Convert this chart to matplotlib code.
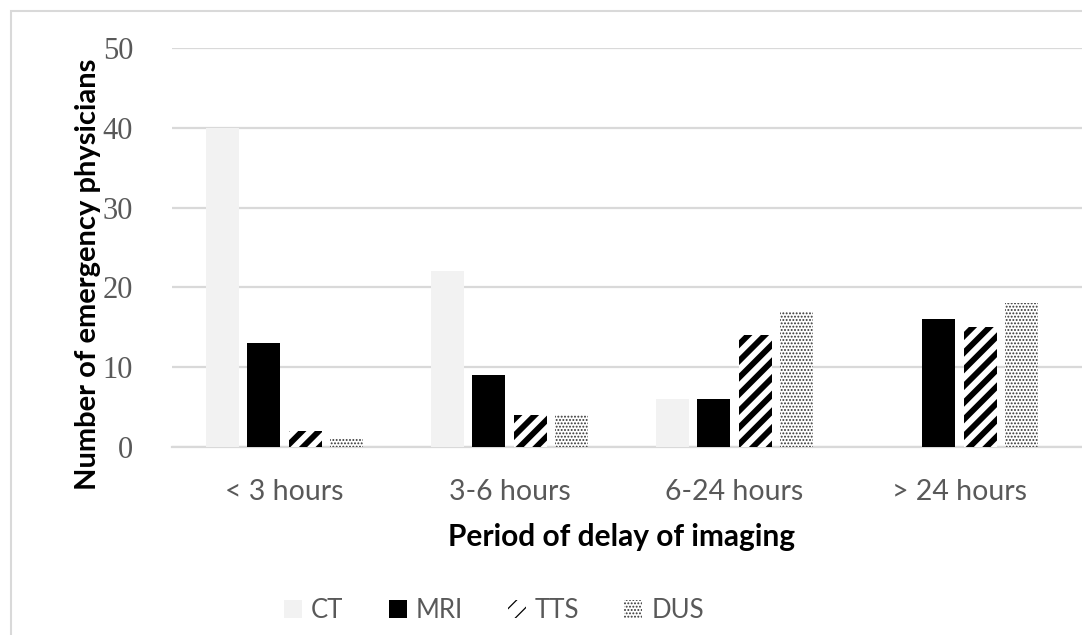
import numpy as np
import matplotlib.pyplot as plt
from matplotlib.patches import Rectangle

# data
categories = ['< 3 hours', '3-6 hours', '6-24 hours', '> 24 hours']
series_names = ['CT', 'MRI', 'TTS', 'DUS']
ct = [40, 22, 6, 0]
mri = [13, 9, 6, 16]
tts = [2, 4, 14, 15]
dus = [1, 4, 17, 18]
yticks = [0, 10, 20, 30, 40, 50]

W, H = 1082, 635
fig = plt.figure(figsize=(W / 100, H / 100), dpi=100)

# outer chart frame (light grey, left + top visible)
fig.add_artist(Rectangle((11 / W, -0.1), 1.2, (H - 11) / H + 0.1,
                         transform=fig.transFigure, fill=False,
                         edgecolor='#d9d9d9', linewidth=1.5))

left, right, top, bottom = 172, 1082, 48, 447
ax = fig.add_axes([left / W, 1 - bottom / H, (right - left) / W, (bottom - top) / H])

x = np.arange(len(categories))
bw = 0.147
pitch = 0.184
offsets = (np.arange(4) - 1.5) * pitch

styles = [
    dict(color='#f2f2f2', edgecolor='#f2f2f2'),
    dict(color='black', edgecolor='black'),
    dict(facecolor='white', edgecolor='black', hatch='//'),
    dict(facecolor='white', edgecolor='#333333', hatch='.....'),
]
hatch_lw = [None, None, 4.2, 0.9]

bars = []
for i, (vals, st) in enumerate(zip([ct, mri, tts, dus], styles)):
    if hatch_lw[i]:
        plt.rcParams['hatch.linewidth'] = hatch_lw[i]
    b = ax.bar(x + offsets[i], vals, bw, label=series_names[i], linewidth=0, zorder=3, **st)
    if hatch_lw[i]:
        for p in b:
            if hasattr(p, 'set_hatch_linewidth'):
                p.set_hatch_linewidth(hatch_lw[i])
    bars.append(b)

ax.set_xlim(-0.5, 3.5 + 10 / 225)
ax.set_ylim(0, 50)
ax.set_yticks(yticks)
ax.yaxis.grid(True, color='#d9d9d9', linewidth=1.6, zorder=0)
ax.set_axisbelow(True)
for s in ['top', 'right', 'left']:
    ax.spines[s].set_visible(False)
ax.spines['bottom'].set_color('#d9d9d9')
ax.spines['bottom'].set_linewidth(1.6)
ax.tick_params(length=0)
ax.tick_params(axis='y', pad=28)
ax.tick_params(axis='x', pad=23)

ax.set_yticklabels([str(t) for t in yticks], fontfamily='Liberation Serif',
                   fontsize=22, color='#595959')
ax.set_xticks(x)
ax.set_xticklabels(categories, fontfamily='Lato', fontsize=20.5, color='#595959')

ax.set_ylabel('Number of emergency physicians', fontfamily='Lato', fontweight='bold',
              fontsize=21, va='center')
ax.yaxis.set_label_coords((88 - left) / (right - left), (bottom - 274) / (bottom - top))
fig.text((left + 1072) / 2 / W, 1 - 537 / H, 'Period of delay of imaging',
         fontfamily='Lato', fontweight='bold', fontsize=21.5, ha='center', va='center')

leg = fig.legend(handles=bars, labels=series_names, loc='center', ncol=4,
                 bbox_to_anchor=(494 / W, 1 - 610 / H), frameon=False,
                 prop={'family': 'Lato', 'size': 18.5}, handlelength=0.7, handleheight=0.7,
                 handletextpad=0.35, columnspacing=1.75)
for t in leg.get_texts():
    t.set_color('#595959')

fig.savefig('out.png', dpi=100)
